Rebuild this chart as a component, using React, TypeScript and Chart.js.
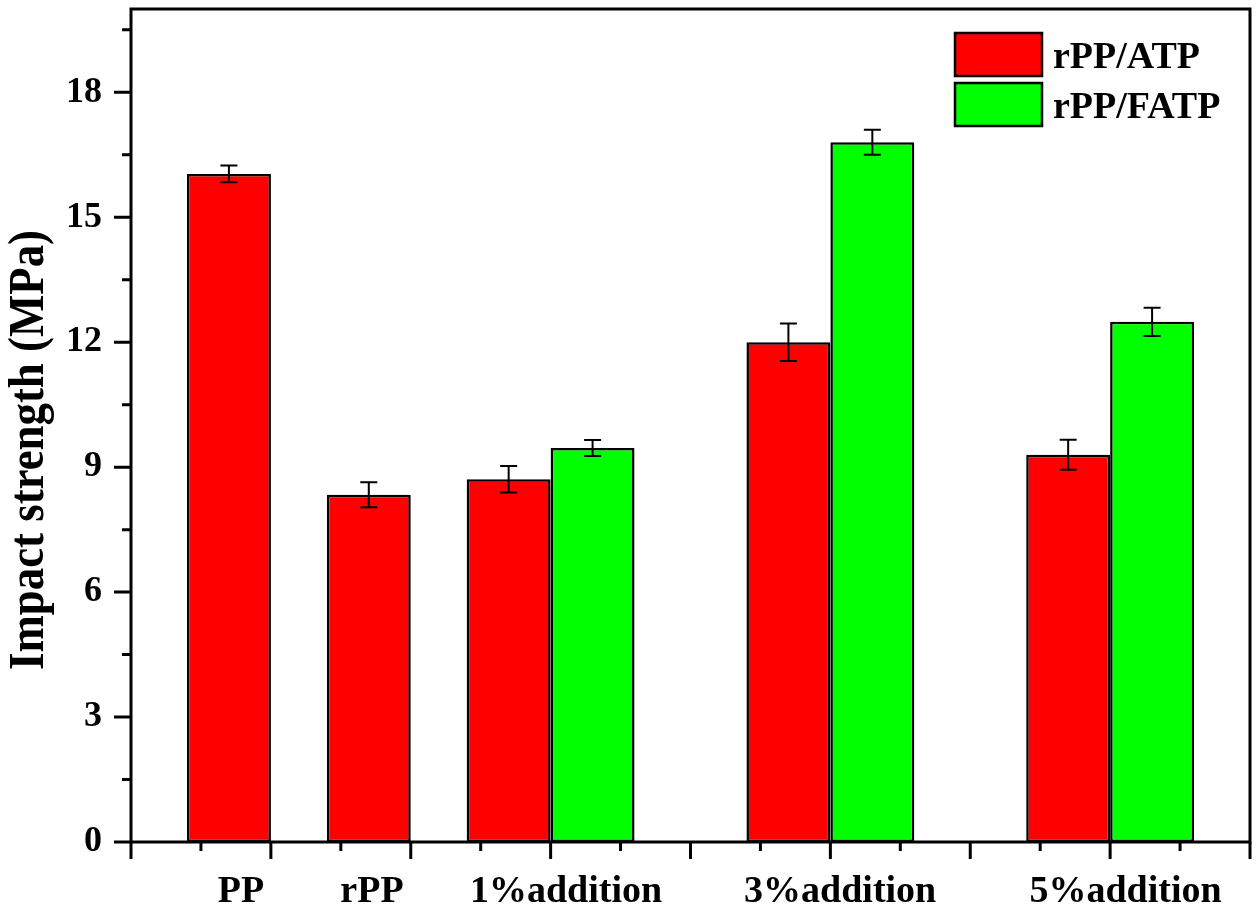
import React, { useEffect, useRef } from 'react';
import { Chart, registerables } from 'chart.js';
Chart.register(...registerables);

// ---- data ----
const slotLabels = ['', 'PP', 'rPP', '1%addition', '', '3%addition', '', '5%addition', ''];
const atpValues = [null, 16.04, 8.34, 8.71, null, 12.0, null, 9.3, null];
const atpErrors = [null, 0.2, 0.3, 0.32, null, 0.45, null, 0.36, null];
const fatpValues = [null, null, null, 9.46, null, 16.8, null, 12.49, null];
const fatpErrors = [null, null, null, 0.19, null, 0.3, null, 0.34, null];
const seriesNames = ['rPP/ATP', 'rPP/FATP'];
const yMajorTicks = [0, 3, 6, 9, 12, 15, 18];
const yMinorTicks = [1.5, 4.5, 7.5, 10.5, 13.5, 16.5, 19.5];
const yTitle = 'Impact strength (MPa)';

// ---- style ----
const FONT = '"Liberation Serif", "Times New Roman", serif';
const xLabelShift = [0, -0.214, -0.277, 0.11, 0, 0.07, 0, 0.11, 0];
const colors = ['#FF0000', '#00FF00'];

export default function App() {
  const ref = useRef<HTMLCanvasElement>(null);
  useEffect(() => {
    document.body.style.margin = '0';
    const canvas = ref.current!;
    const errs = [atpErrors, fatpErrors];

    const xLabelTicks = slotLabels
      .map((l, i) => (l ? { value: i + xLabelShift[i], label: l } : null))
      .filter((t) => t !== null) as { value: number; label: string }[];

    const errorBars = {
      id: 'errorBars',
      afterDatasetsDraw(chart: any) {
        const ctx = chart.ctx;
        const y = chart.scales.y;
        ctx.save();
        ctx.strokeStyle = '#000';
        ctx.lineWidth = 2;
        chart.data.datasets.forEach((ds: any, di: number) => {
          const meta = chart.getDatasetMeta(di);
          meta.data.forEach((el: any, i: number) => {
            const v = ds.data[i];
            const e = errs[di][i];
            if (v == null || e == null) return;
            const x = el.x;
            const yt = y.getPixelForValue(v + e);
            const yb = y.getPixelForValue(v - e);
            ctx.beginPath();
            ctx.moveTo(x, yt); ctx.lineTo(x, yb);
            ctx.moveTo(x - 8.5, yt); ctx.lineTo(x + 8.5, yt);
            ctx.moveTo(x - 8.5, yb); ctx.lineTo(x + 8.5, yb);
            ctx.stroke();
          });
        });
        ctx.restore();
      },
    };

    const frame = {
      id: 'frame',
      afterDraw(chart: any) {
        const ctx = chart.ctx;
        const { left, top, right, bottom } = chart.chartArea;
        const y = chart.scales.y;
        const x = chart.scales.x;
        ctx.save();
        ctx.strokeStyle = '#000';
        ctx.lineWidth = 3;
        ctx.strokeRect(left, top, right - left, bottom - top);
        ctx.beginPath();
        yMajorTicks.forEach((v) => {
          const p = y.getPixelForValue(v);
          ctx.moveTo(left, p); ctx.lineTo(left - 17, p);
        });
        yMinorTicks.forEach((v) => {
          const p = y.getPixelForValue(v);
          ctx.moveTo(left, p); ctx.lineTo(left - 9, p);
        });
        for (let i = 0; i < slotLabels.length; i++) {
          const p = x.getPixelForValue(i);
          ctx.moveTo(p, bottom); ctx.lineTo(p, bottom + 17);
          if (i < slotLabels.length - 1) {
            const m = (p + x.getPixelForValue(i + 1)) / 2;
            ctx.moveTo(m, bottom); ctx.lineTo(m, bottom + 9);
          }
        }
        ctx.stroke();

        // y title
        ctx.save();
        ctx.fillStyle = '#000';
        ctx.font = `bold 50px ${FONT}`;
        const w = ctx.measureText(yTitle).width;
        ctx.translate(30, 450);
        ctx.rotate(-Math.PI / 2);
        ctx.scale(440 / w, 1);
        ctx.textAlign = 'center';
        ctx.textBaseline = 'middle';
        ctx.fillText(yTitle, 0, 0);
        ctx.restore();

        // legend
        ctx.font = `bold 38px ${FONT}`;
        ctx.textAlign = 'left';
        ctx.textBaseline = 'alphabetic';
        chart.data.datasets.forEach((ds: any, i: number) => {
          const ry = 33 + i * 50;
          ctx.fillStyle = ds.backgroundColor;
          ctx.fillRect(955, ry, 87, 43);
          ctx.lineWidth = 2.5;
          ctx.strokeRect(955, ry, 87, 43);
          ctx.fillStyle = '#000';
          ctx.fillText(ds.label, 1053, ry + 35);
        });
        ctx.restore();
      },
    };

    const chart = new Chart(canvas, {
      type: 'bar',
      data: {
        labels: slotLabels,
        datasets: [
          {
            label: seriesNames[0],
            data: atpValues as any,
            backgroundColor: colors[0],
            borderColor: '#000',
            borderWidth: 2.5,
            borderSkipped: false,
            categoryPercentage: 1.2,
            barPercentage: 1,
            xAxisID: 'x',
          },
          {
            label: seriesNames[1],
            data: fatpValues as any,
            backgroundColor: colors[1],
            borderColor: '#000',
            borderWidth: 2.5,
            borderSkipped: false,
            categoryPercentage: 1.2,
            barPercentage: 1,
            xAxisID: 'x',
          },
        ],
      },
      options: {
        animation: false,
        responsive: false,
        devicePixelRatio: 1,
        layout: { padding: { top: 9, right: 10, left: 0, bottom: 0 } },
        plugins: { legend: { display: false }, tooltip: { enabled: false } },
        scales: {
          x: {
            type: 'category',
            display: false,
            offset: false,
          },
          x2: {
            type: 'linear',
            position: 'bottom',
            min: 0,
            max: slotLabels.length - 1,
            offset: false,
            grid: { display: false, drawTicks: false, offset: false },
            border: { display: false },
            afterBuildTicks: (scale: any) => {
              scale.ticks = xLabelTicks.map((t) => ({ value: t.value }));
            },
            afterFit: (scale: any) => {
              scale.height = 70;
              scale.paddingLeft = 0;
              scale.paddingRight = 0;
            },
            ticks: {
              autoSkip: false,
              maxRotation: 0,
              minRotation: 0,
              padding: 27,
              color: '#000',
              font: { family: FONT, size: 38, weight: 'bold' },
              callback: (_v: any, i: number) => xLabelTicks[i]?.label ?? '',
            },
          },
          y: {
            type: 'linear',
            min: 0,
            max: 20,
            grid: { display: false, drawTicks: false },
            border: { display: false },
            afterBuildTicks: (scale: any) => {
              scale.ticks = yMajorTicks.map((v) => ({ value: v }));
            },
            afterFit: (scale: any) => {
              scale.width = 131;
              scale.paddingTop = 0;
              scale.paddingBottom = 0;
            },
            ticks: {
              padding: 29,
              color: '#000',
              font: { family: FONT, size: 36, weight: 'bold' },
              callback: (v: any) => String(v),
            },
          },
        },
      } as any,
      plugins: [errorBars, frame],
    });
    return () => chart.destroy();
  }, []);
  return <canvas ref={ref} width={1260} height={912} style={{ display: 'block' }} />;
}
